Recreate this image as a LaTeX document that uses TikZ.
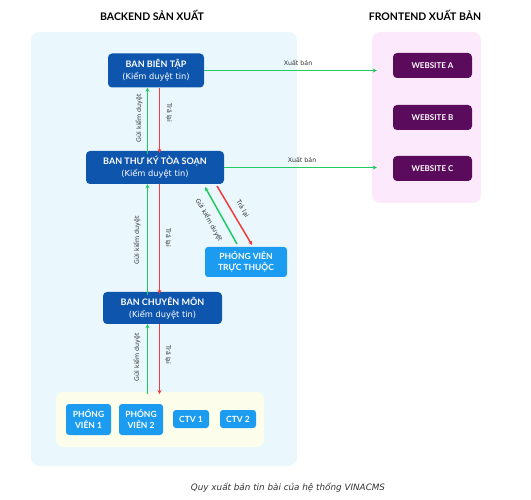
\documentclass[tikz,border=0pt]{standalone}
\usepackage{fontspec}
\setmainfont{Lato}
\newfontfamily\lblfont{DejaVu Sans}
\usetikzlibrary{arrows.meta}
\definecolor{dblue}{HTML}{0E55AE}
\definecolor{lblue}{HTML}{1C9CF0}
\definecolor{dpurple}{HTML}{5A0B5C}
\definecolor{bgcyan}{HTML}{EAF8FD}
\definecolor{bgpink}{HTML}{FCEAFC}
\definecolor{bgyellow}{HTML}{FDFDEC}
\definecolor{agreen}{HTML}{1FCB62}
\definecolor{ared}{HTML}{F03C3C}
\definecolor{txtgray}{HTML}{333333}
\tikzset{
  bluebox/.style={draw=none, fill=dblue, rounded corners=4pt, text=white, align=center, inner sep=1pt, font=\fontsize{9}{12}\selectfont},
  purplebox/.style={draw=none, fill=dpurple, rounded corners=4pt, text=white, align=center, inner sep=1pt, font=\fontsize{8}{10}\selectfont\bfseries, minimum width=79pt, minimum height=25pt},
  lightbox/.style={draw=none, fill=lblue, rounded corners=3pt, text=white, align=center, inner sep=1pt, font=\fontsize{8.5}{11}\selectfont\bfseries},
  garrow/.style={draw=agreen, line width=1.5pt, -{Stealth[length=4pt,width=4pt]}},
  rarrow/.style={draw=ared, line width=1.5pt, -{Stealth[length=4pt,width=4pt]}},
  lbl/.style={font=\lblfont\fontsize{6.3}{7}\selectfont, text=txtgray, inner sep=0.5pt},
  ttl/.style={font=\fontsize{10.5}{12}\selectfont\bfseries, text=black}
}
\newcommand{\kdt}{{\lblfont\fontsize{8.3}{12}\selectfont(Kiểm duyệt tin)}}
\begin{document}
\begin{tikzpicture}[x=1pt,y=-1pt]
\useasboundingbox (0,0) rectangle (531,500);
% panels
\fill[bgcyan, rounded corners=8pt] (31,32) rectangle (297,466);
\fill[bgpink, rounded corners=8pt] (372,32) rectangle (481,203);
\fill[bgyellow, rounded corners=7pt] (56,392) rectangle (264,447);
% titles
\node[ttl] (t1) at (152,15) {BACKEND SẢN XUẤT};
\node[ttl] (t2) at (425,15) {FRONTEND XUẤT BẢN};
% nodes
\node[bluebox, minimum width=96pt, minimum height=34pt] (bbt) at (156,70.5) {\textbf{BAN BIÊN TẬP}\\\kdt};
\node[bluebox, minimum width=138pt, minimum height=33pt] (btk) at (155,167.5) {\textbf{BAN THƯ KÝ TÒA SOẠN}\\\kdt};
\node[bluebox, minimum width=119pt, minimum height=32pt] (bcm) at (162.5,308) {\textbf{BAN CHUYÊN MÔN}\\\kdt};
\node[lightbox, minimum width=82pt, minimum height=30pt] (pvtt) at (246,262) {PHÓNG VIÊN\\TRỰC THUỘC};
\node[purplebox] (wa) at (432.5,65.5) {WEBSITE A};
\node[purplebox] (wb) at (432.5,117.5) {WEBSITE B};
\node[purplebox] (wc) at (432.5,168.5) {WEBSITE C};
\node[lightbox, minimum width=45pt, minimum height=31pt] (pv1) at (88.5,419.5) {PHÓNG\\VIÊN 1};
\node[lightbox, minimum width=44pt, minimum height=31pt] (pv2) at (141,419.5) {PHÓNG\\VIÊN 2};
\node[lightbox, minimum width=36pt, minimum height=18pt] (ctv1) at (191,419) {CTV 1};
\node[lightbox, minimum width=36pt, minimum height=18pt] (ctv2) at (238,419) {CTV 2};
% publish arrows
\draw[garrow, shorten >=16pt] (bbt.east) -- (bbt.east -| wa.west);
\draw[garrow, shorten >=16pt] (btk.east) -- (btk.east -| wc.west);
\node[lbl] (xb1) at (298,63) {Xuất bản};
\node[lbl] (xb2) at (302,160) {Xuất bản};
% vertical arrow columns
\coordinate (gx) at (147.5,0);
\coordinate (rx) at (159.5,0);
\coordinate (gx2) at (147.5,0);
\coordinate (rx2) at (159.5,0);
\coordinate (grp) at (160,392);
% BBT <-> BTK
\draw[garrow] ([yshift=-3pt]gx |- btk.north) -- (gx |- bbt.south);
\draw[rarrow] (rx |- bbt.south) -- ([yshift=-2pt]rx |- btk.north);
\node[lbl, rotate=90] (g1) at (139,118) {Gửi kiểm duyệt};
\node[lbl, rotate=-90] (r1) at (169,113) {Trả lại};
% BTK <-> BCM
\draw[garrow] ([yshift=-3pt]gx |- bcm.north) -- (gx |- btk.south);
\draw[rarrow] (rx |- btk.south) -- ([yshift=-2pt]rx |- bcm.north);
\node[lbl, rotate=90] (g2) at (137,240) {Gửi kiểm duyệt};
\node[lbl, rotate=-90] (r2) at (168,238) {Trả lại};
% BCM <-> group
\draw[garrow] ([yshift=-2pt]gx2 |- grp) -- (gx2 |- bcm.south);
\draw[rarrow] (rx2 |- bcm.south) -- ([yshift=-2pt]rx2 |- grp);
\node[lbl, rotate=90] (g3) at (137,357) {Gửi kiểm duyệt};
\node[lbl, rotate=-90] (r3) at (168,355) {Trả lại};
% diagonal arrows
\coordinate (dgs) at (237,244);
\coordinate (dge) at (205,187);
\coordinate (drs) at (217,186);
\coordinate (dre) at (252,245);
\draw[garrow] (dgs) -- (dge);
\draw[rarrow] (drs) -- (dre);
\node[lbl, rotate=-60.7] (g4) at (209,220) {Gửi kiểm duyệt};
\node[lbl, rotate=-59.3] (r4) at (242.5,209) {Trả lại};
% caption
\node[font=\lblfont\fontsize{8.8}{11}\selectfont\itshape, text=txtgray] (cap) at (288,488) {Quy xuất bản tin bài của hệ thống VINACMS};
\end{tikzpicture}
\end{document}
